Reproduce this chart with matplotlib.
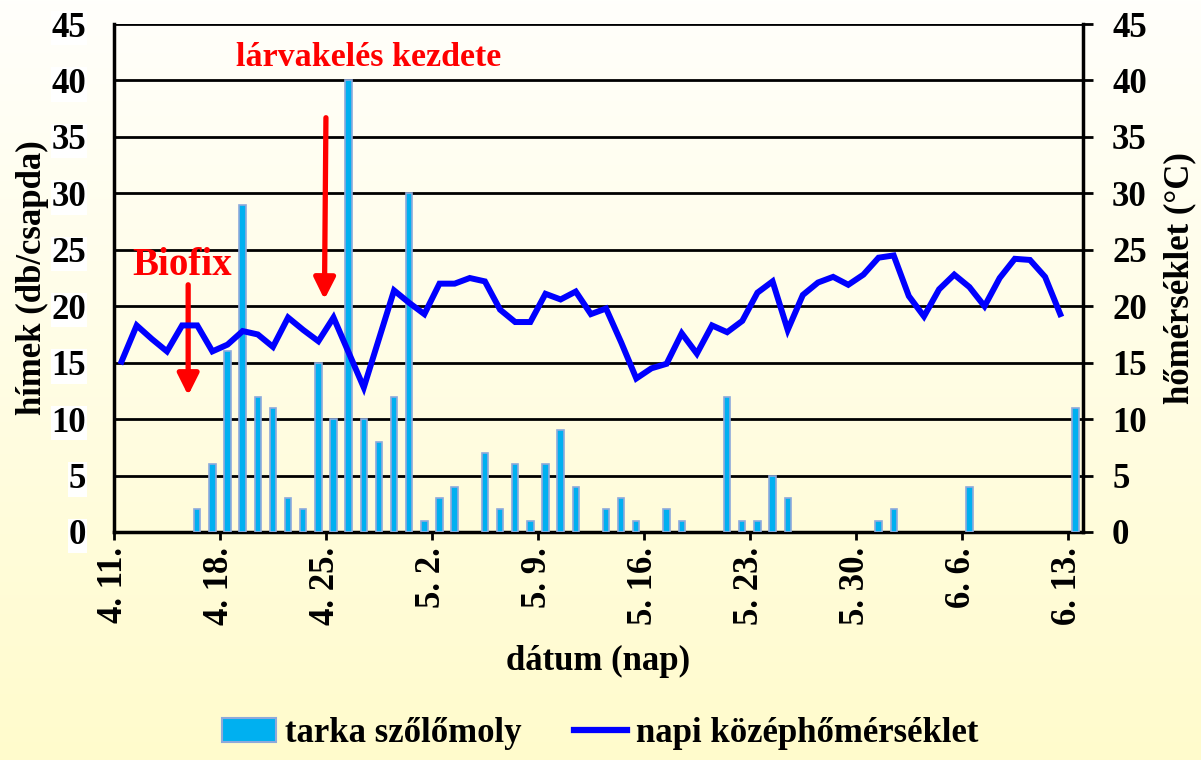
import numpy as np
import matplotlib
matplotlib.use("Agg")
import matplotlib.pyplot as plt
from matplotlib.patches import Patch
from matplotlib.lines import Line2D

# napi csapdafogás (tarka szőlőmoly), 4.11. - 6.13.
catch = [0, 0, 0, 0, 0, 2, 6, 16, 29, 12,
         11, 3, 2, 15, 10, 40, 10, 8, 12, 30,
         1, 3, 4, 0, 7, 2, 6, 1, 6, 9,
         4, 0, 2, 3, 1, 0, 2, 1, 0, 0,
         12, 1, 1, 5, 3, 0, 0, 0, 0, 0,
         1, 2, 0, 0, 0, 0, 4, 0, 0, 0,
         0, 0, 0, 11]

# napi középhőmérséklet, 4.11. - 6.12.
temp = [15.1, 18.3, 17.1, 16.0, 18.3, 18.3, 16.0, 16.6, 17.8, 17.5,
        16.4, 19.0, 17.9, 16.9, 19.0, 15.9, 12.8, 17.1, 21.4, 20.3,
        19.3, 22.0, 22.0, 22.5, 22.2, 19.7, 18.6, 18.6, 21.1, 20.6,
        21.3, 19.3, 19.8, 16.8, 13.6, 14.5, 14.9, 17.6, 15.8, 18.3,
        17.7, 18.7, 21.2, 22.2, 17.9, 21.0, 22.1, 22.6, 21.9, 22.8,
        24.3, 24.5, 20.9, 19.1, 21.5, 22.8, 21.7, 20.0, 22.5, 24.2,
        24.1, 22.6, 19.3]

tick_labels = ["4. 11.", "4. 18.", "4. 25.", "5. 2.", "5. 9.",
               "5. 16.", "5. 23.", "5. 30.", "6. 6.", "6. 13."]

plt.rcParams['font.family'] = ['Liberation Serif', 'DejaVu Serif']
plt.rcParams['font.weight'] = 'bold'
FS = 25

fig = plt.figure(figsize=(12.01, 7.60), dpi=100)

# háttér színátmenet
bg = fig.add_axes([0, 0, 1, 1], zorder=-10)
grad = np.linspace(0, 1, 256).reshape(-1, 1)
top_c = np.array([1.0, 1.0, 0.985])
bot_c = np.array([1.0, 0.985, 0.80])
img = top_c * (1 - grad[..., None]) + bot_c * grad[..., None]
img = np.repeat(img, 2, axis=1)
bg.imshow(img, aspect='auto', extent=[0, 1, 0, 1])
bg.axis('off')

ax = fig.add_axes([0.0949, 0.30, 0.8068, 0.6684])
ax.set_facecolor('none')

days = np.arange(len(catch))
heights = np.array(catch, dtype=float)
heights[heights == 0] = np.nan
ax.bar(days, heights, width=0.42, color='#00B0F0', edgecolor='#8EA9DB',
       linewidth=1.2, zorder=3)

ax.set_xlim(-0.5, len(catch) - 0.5)
ax.set_ylim(0, 45)
ax.set_yticks(np.arange(0, 46, 5))
ax.yaxis.grid(True, color='black', linewidth=2)
ax.set_axisbelow(True)

tick_pos = np.arange(len(tick_labels)) * 7 - 0.5
ax.set_xticks(tick_pos)
ax.set_xticklabels(tick_labels, rotation=90, fontsize=FS, fontweight='bold')
ax.tick_params(axis='x', length=6, width=2, pad=5)
ax.tick_params(axis='y', length=0, labelsize=FS, pad=20)
for lbl in ax.get_yticklabels():
    lbl.set_bbox(dict(facecolor='white', edgecolor='none', pad=0.5))
for s in ['left', 'bottom']:
    ax.spines[s].set_linewidth(2.5)
ax.spines['top'].set_visible(False)
ax.spines['right'].set_visible(False)

ax.set_ylabel("hímek (db/csapda)", fontsize=FS, fontweight='bold', labelpad=2)
ax.set_xlabel("dátum (nap)", fontsize=FS, fontweight='bold', labelpad=14)

ax2 = ax.twinx()
ax2.plot(np.arange(len(temp)), temp, color='#0000FF', linewidth=4.3,
         solid_joinstyle='miter', zorder=4)
ax2.set_ylim(0, 45)
ax2.set_yticks(np.arange(0, 46, 5))
ax2.tick_params(axis='y', length=7, width=2, labelsize=FS, pad=14)
ax2.spines['right'].set_linewidth(2.5)
for s in ['left', 'top', 'bottom']:
    ax2.spines[s].set_visible(False)
ax2.set_ylabel("hőmérséklet (°C)", fontsize=FS, fontweight='bold', labelpad=12)

# nyilak és feliratok
ax.annotate("", xy=(4.4, 12.1), xytext=(4.4, 21.9),
            arrowprops=dict(arrowstyle='-|>', color='red', lw=3.8,
                            mutation_scale=32, shrinkA=0, shrinkB=0),
            zorder=6)
ax.text(4.0, 23.6, "Biofix", color='red', fontsize=28, fontweight='bold',
        ha='center', va='center', zorder=6)
ax.annotate("", xy=(13.4, 20.6), xytext=(13.5, 36.7),
            arrowprops=dict(arrowstyle='-|>', color='red', lw=3.8,
                            mutation_scale=32, shrinkA=0, shrinkB=0),
            zorder=6)
ax.text(16.3, 42.0, "lárvakelés kezdete", color='red', fontsize=24.5,
        fontweight='bold', ha='center', va='center', zorder=6)

handles = [Patch(facecolor='#00B0F0', edgecolor='#8EA9DB', linewidth=1.5),
           Line2D([0], [0], color='#0000FF', linewidth=4.5)]
fig.legend(handles, ["tarka szőlőmoly", "napi középhőmérséklet"],
           loc='lower center', bbox_to_anchor=(0.5, -0.028), ncol=2,
           frameon=False, prop={'weight': 'bold', 'size': FS},
           handlelength=1.55, handletextpad=0.25, columnspacing=1.5)

fig.savefig("out.png", dpi=100)
